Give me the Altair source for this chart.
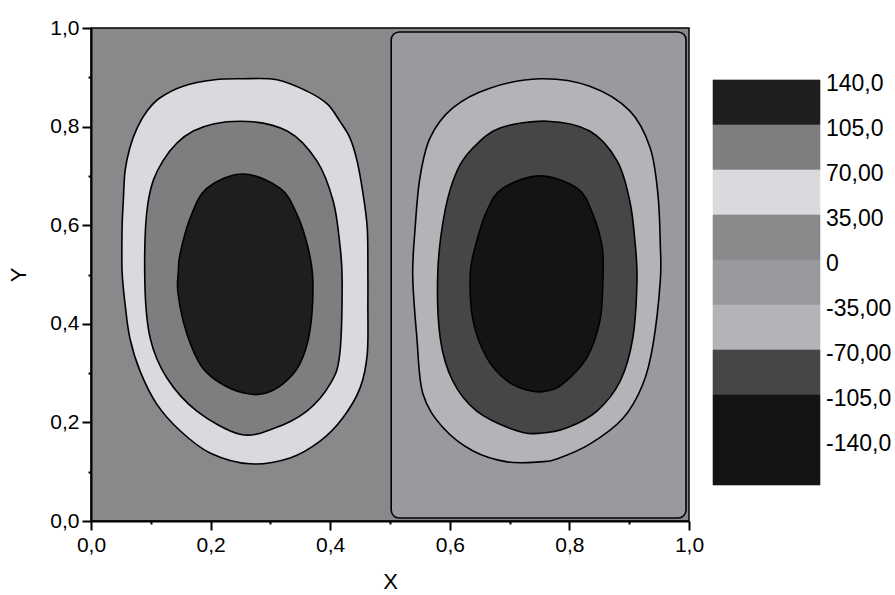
import altair as alt
import pandas as pd

FONT = "Liberation Sans"

# Contour lines of the stream function, traced as closed polygons (data units).
# Left cell (positive levels)
L35_X = [0.254, 0.311, 0.361, 0.395, 0.416, 0.433, 0.445, 0.455, 0.462, 0.463, 0.463,
         0.462, 0.450, 0.421, 0.383, 0.333, 0.266, 0.199, 0.149, 0.110, 0.082, 0.065,
         0.057, 0.052, 0.052, 0.054, 0.057, 0.065, 0.077, 0.094, 0.115, 0.154, 0.207]
L35_Y = [0.897, 0.895, 0.872, 0.846, 0.811, 0.777, 0.730, 0.663, 0.594, 0.507, 0.440,
         0.339, 0.270, 0.209, 0.162, 0.128, 0.116, 0.138, 0.183, 0.237, 0.304, 0.371,
         0.440, 0.507, 0.594, 0.649, 0.710, 0.757, 0.797, 0.832, 0.858, 0.882, 0.895]

L70_X = [0.249, 0.328, 0.378, 0.405, 0.416, 0.420, 0.416, 0.400, 0.361, 0.304, 0.249,
         0.177, 0.127, 0.099, 0.090, 0.095, 0.120, 0.171]
L70_Y = [0.811, 0.791, 0.730, 0.649, 0.562, 0.487, 0.339, 0.278, 0.223, 0.187, 0.176,
         0.223, 0.290, 0.371, 0.487, 0.643, 0.730, 0.791]

L105_X = [0.254, 0.316, 0.344, 0.363, 0.371, 0.366, 0.349, 0.321, 0.288, 0.254, 0.216,
          0.187, 0.169, 0.154, 0.145, 0.146, 0.149, 0.166, 0.194]
L105_Y = [0.704, 0.675, 0.623, 0.554, 0.487, 0.385, 0.318, 0.278, 0.258, 0.260, 0.280,
          0.310, 0.351, 0.406, 0.467, 0.505, 0.542, 0.615, 0.675]

# Right cell (negative levels); the zero contour bounds the cell
RZERO_X = [0.502, 0.995]
RZERO_Y = [0.006, 0.992]

R35_X = [0.751, 0.834, 0.901, 0.935, 0.948, 0.952, 0.952, 0.940, 0.923, 0.890, 0.834,
         0.779, 0.751, 0.696, 0.639, 0.589, 0.555, 0.545, 0.538, 0.542, 0.550, 0.567,
         0.605, 0.667]
R35_Y = [0.897, 0.882, 0.832, 0.757, 0.663, 0.562, 0.487, 0.359, 0.278, 0.209, 0.156,
         0.126, 0.120, 0.120, 0.142, 0.189, 0.258, 0.371, 0.497, 0.594, 0.696, 0.777,
         0.838, 0.878]

R70_X = [0.763, 0.834, 0.880, 0.901, 0.910, 0.913, 0.906, 0.885, 0.846, 0.796, 0.751,
         0.712, 0.645, 0.605, 0.584, 0.580, 0.592, 0.612, 0.639, 0.684]
R70_Y = [0.811, 0.791, 0.730, 0.649, 0.562, 0.487, 0.371, 0.284, 0.223, 0.189, 0.178,
         0.183, 0.223, 0.284, 0.371, 0.507, 0.629, 0.710, 0.757, 0.797]

R105_X = [0.751, 0.813, 0.839, 0.855, 0.856, 0.851, 0.829, 0.789, 0.763, 0.734, 0.696,
          0.662, 0.639, 0.634, 0.642, 0.662, 0.689]
R105_Y = [0.700, 0.675, 0.623, 0.554, 0.487, 0.406, 0.331, 0.278, 0.264, 0.264, 0.284,
          0.331, 0.406, 0.497, 0.554, 0.629, 0.675]

# Colour scale: one band per 35-unit interval, top (140) to bottom
LEVEL_HI = [140, 105, 70, 35, 0, -35, -70, -105, -140]
LEVEL_LO = [105, 70, 35, 0, -35, -70, -105, -140, -175]
LEVEL_COLORS = ["#1e1e1e", "#7e7e80", "#d9dadd", "#89898b", "#999a9d",
                "#b3b4b7", "#464646", "#141414", "#141414"]
LEVEL_TICKS = [140, 105, 70, 35, 0, -35, -70, -105, -140]
LEVEL_LABELS = ["140,0", "105,0", "70,00", "35,00", "0",
                "-35,00", "-70,00", "-105,0", "-140,0"]

W, H = 598, 493
BAND = dict(zip(LEVEL_HI, LEVEL_COLORS))

xs = alt.Scale(domain=[0, 1], nice=False, zero=False)
ys = alt.Scale(domain=[0, 1], nice=False, zero=False)

major = "round(datum.value * 10) % 2 == 0"
fmt = "replace(format(datum.value, '.1f'), '.', ',')"
tick_values = [i / 10 for i in range(11)]

axis_style = dict(
    values=tick_values, labelExpr=f"{major} ? {fmt} : ''",
    tickSize={"condition": {"test": major, "value": 9}, "value": 3},
    tickWidth=2, tickColor="black", domainColor="black", domainWidth=2,
    labelFont=FONT, labelFontSize=21, labelColor="black",
    titleFont=FONT, titleFontSize=22, titleFontWeight="normal", titleColor="black",
    grid=False, labelFlush=False,
)
x_axis = alt.Axis(title="X", labelPadding=4, titlePadding=16, **axis_style)
y_axis = alt.Axis(title="Y", labelPadding=3, titlePadding=19, **axis_style)


def contour(xv, yv, fill):
    df = pd.DataFrame({"x": xv, "y": yv, "i": list(range(len(xv)))})
    return alt.Chart(df).mark_line(
        interpolate="cardinal-closed", strokeWidth=1.6, strokeJoin="round"
    ).encode(
        x=alt.X("x:Q", scale=xs, axis=x_axis),
        y=alt.Y("y:Q", scale=ys, axis=y_axis),
        order="i:Q",
        fill=alt.value(fill),
        stroke=alt.value("black"),
    )


zero_df = pd.DataFrame({"x": [RZERO_X[0]], "x2": [RZERO_X[1]],
                        "y": [RZERO_Y[0]], "y2": [RZERO_Y[1]]})
zero_region = alt.Chart(zero_df).mark_rect(
    fill=BAND[0], stroke="black", strokeWidth=1.6, cornerRadius=8
).encode(
    x=alt.X("x:Q", scale=xs, axis=x_axis), x2="x2",
    y=alt.Y("y:Q", scale=ys, axis=y_axis), y2="y2",
)

main = alt.layer(
    zero_region,
    contour(L35_X, L35_Y, BAND[70]),
    contour(L70_X, L70_Y, BAND[105]),
    contour(L105_X, L105_Y, BAND[140]),
    contour(R35_X, R35_Y, BAND[-35]),
    contour(R70_X, R70_Y, BAND[-70]),
    contour(R105_X, R105_Y, BAND[-105]),
).properties(
    width=W, height=H,
    view=alt.ViewBackground(fill=BAND[35], stroke="black", strokeWidth=1.5),
)

# Colour scale bar
leg_df = pd.DataFrame({"hi": LEVEL_HI, "lo": LEVEL_LO, "c": LEVEL_COLORS})
lab_df = pd.DataFrame({"v": LEVEL_TICKS, "t": LEVEL_LABELS})
leg_scale = alt.Scale(domain=[-203, 180.4], nice=False, zero=False)

bars = alt.Chart(leg_df).mark_rect(strokeWidth=0.6).encode(
    x=alt.value(0), x2=alt.value("width"),
    y=alt.Y("hi:Q", scale=leg_scale, axis=None), y2="lo:Q",
    fill=alt.Fill("c:N", scale=None),
    stroke=alt.Stroke("c:N", scale=None),
)
labels = alt.Chart(lab_df).mark_text(
    align="left", baseline="middle", dx=6, dy=4, font=FONT, fontSize=23, color="black"
).encode(
    x=alt.value("width"),
    y=alt.Y("v:Q", scale=leg_scale, axis=None),
    text="t:N",
)
legend = alt.layer(bars, labels).properties(width=107, height=H)

chart = alt.hconcat(main, legend, spacing=24, bounds="flush").properties(
    padding={"left": 7, "top": 16, "right": 1, "bottom": 0},
    background="white",
).configure_view(
    stroke="transparent"
)

chart.save("out.html", embed_options={"renderer": "svg", "actions": False})
